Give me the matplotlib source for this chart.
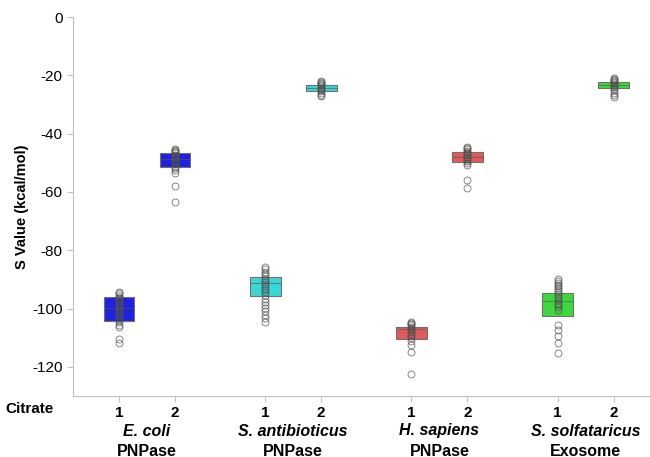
import matplotlib
matplotlib.use("Agg")
import matplotlib.pyplot as plt
import matplotlib.transforms as mtransforms

plt.rcParams["font.family"] = ["Liberation Sans", "DejaVu Sans"]
plt.rcParams["axes.unicode_minus"] = False

# Data
species = ["E. coli", "S. antibioticus", "H. sapiens", "S. solfataricus"]
enzymes = ["PNPase", "PNPase", "PNPase", "Exosome"]
citrate = ["1", "2"]
colors = ["#2020e0", "#3cd6d6", "#e05a5a", "#3ed83e"]

# box stats, order: species x citrate
q3 = [-96.1, -46.6, -89.1, -23.2, -106.2, -46.3, -94.8, -22.3]
med = [-99.9, -48.7, -91.4, -24.3, -107.0, -48.1, -97.5, -23.2]
q1 = [-104.3, -51.4, -95.8, -25.3, -110.5, -49.8, -102.5, -24.2]

ecoli_1 = [-94.2, -94.8, -95.3, -95.9, -96.4, -96.9, -97.3, -97.8, -98.4, -99.0,
           -99.6, -100.1, -100.7, -101.3, -101.9, -102.5, -103.2, -104.0, -104.6,
           -105.5, -106.3, -110.6, -111.7]
ecoli_2 = [-45.2, -45.6, -46.0, -46.4, -46.8, -47.2, -47.6, -48.0, -48.5, -49.0,
           -49.5, -50.0, -50.5, -51.1, -51.8, -52.6, -53.4, -57.8, -63.5]
santi_1 = [-85.8, -86.6, -87.4, -88.2, -89.0, -89.7, -90.3, -90.9, -91.5, -92.1,
           -92.8, -93.6, -94.5, -95.5, -96.6, -97.7, -98.8, -99.9, -101.0, -102.2,
           -103.4, -104.6]
santi_2 = [-21.8, -22.2, -22.6, -23.0, -23.4, -23.8, -24.2, -24.6, -25.0, -25.5,
           -26.0, -26.6, -27.2]
hsap_1 = [-104.6, -105.0, -105.4, -105.8, -106.2, -106.6, -107.0, -107.5, -108.0,
          -108.6, -109.3, -110.1, -111.0, -112.6, -115.0, -122.6]
hsap_2 = [-44.6, -45.0, -45.4, -45.8, -46.2, -46.6, -47.0, -47.4, -47.9, -48.4,
          -48.9, -49.4, -50.0, -50.7, -55.8, -58.5]
ssol_1 = [-90.0, -90.6, -91.2, -91.8, -92.4, -93.0, -93.7, -94.4, -95.1, -95.8,
          -96.5, -97.2, -98.0, -98.8, -99.6, -100.4, -105.6, -107.2, -109.3,
          -111.8, -115.3]
ssol_2 = [-20.8, -21.2, -21.6, -22.0, -22.4, -22.8, -23.2, -23.6, -24.1, -24.6,
          -25.2, -25.9, -26.6, -27.3]
points = [ecoli_1, ecoli_2, santi_1, santi_2, hsap_1, hsap_2, ssol_1, ssol_2]

# positions
group_gap = 2.61
positions = []
for g in range(len(species)):
    for c in range(len(citrate)):
        positions.append(g * group_gap + c)

fig = plt.figure(figsize=(6.5, 4.57), dpi=100)
ax = fig.add_axes([0.1123, 0.1335, 0.8877, 0.8293])

stats = []
for i in range(len(positions)):
    stats.append(dict(med=med[i], q1=q1[i], q3=q3[i], whislo=q1[i], whishi=q3[i], fliers=[]))

box_colors = [colors[i // 2] for i in range(len(positions))]
bp = ax.bxp(stats, positions=positions, widths=0.55, patch_artist=True,
            showcaps=False, showfliers=False, manage_ticks=False)
for patch, col in zip(bp["boxes"], box_colors):
    patch.set_facecolor(col)
    patch.set_edgecolor("#707070")
    patch.set_linewidth(0.8)
for line in bp["medians"]:
    line.set_color("#555555")
    line.set_linewidth(0.8)
    line.set_alpha(0.6)
for line in bp["whiskers"]:
    line.set_visible(False)

for x, pts in zip(positions, points):
    ax.plot([x] * len(pts), pts, linestyle="none", marker="o", markersize=5,
            markerfacecolor="none", markeredgecolor="#505050", markeredgewidth=0.6,
            alpha=0.8)

ax.set_ylim(-130, 0)
ax.set_xlim(-0.82, 9.48)
ax.set_yticks([0, -20, -40, -60, -80, -100, -120])
ax.set_xticks(positions)
ax.set_xticklabels(citrate * len(species), fontweight="bold", fontsize=11)
ax.tick_params(axis="y", labelsize=11, colors="#c0c0c0", labelcolor="black", length=4)
ax.tick_params(axis="x", colors="#c0c0c0", labelcolor="black", length=4, pad=3)

for side in ["top", "right"]:
    ax.spines[side].set_visible(False)
for side in ["left", "bottom"]:
    ax.spines[side].set_color("#c0c0c0")

ax.set_ylabel("S Value (kcal/mol)", fontweight="bold", fontsize=10.5, labelpad=2)

trans = mtransforms.blended_transform_factory(ax.transData, fig.transFigure)
for g in range(len(species)):
    cx = g * group_gap + 0.5
    ax.text(cx, 1 - 431 / 457, species[g], transform=trans, ha="center", va="center",
            fontsize=11.5, fontweight="bold", fontstyle="italic")
    ax.text(cx, 1 - 451 / 457, enzymes[g], transform=trans, ha="center", va="center",
            fontsize=11.5, fontweight="bold")

fig.text(0.008, 1 - 409 / 457, "Citrate", ha="left", va="center",
         fontsize=11, fontweight="bold")

fig.savefig("out.png", dpi=100)
